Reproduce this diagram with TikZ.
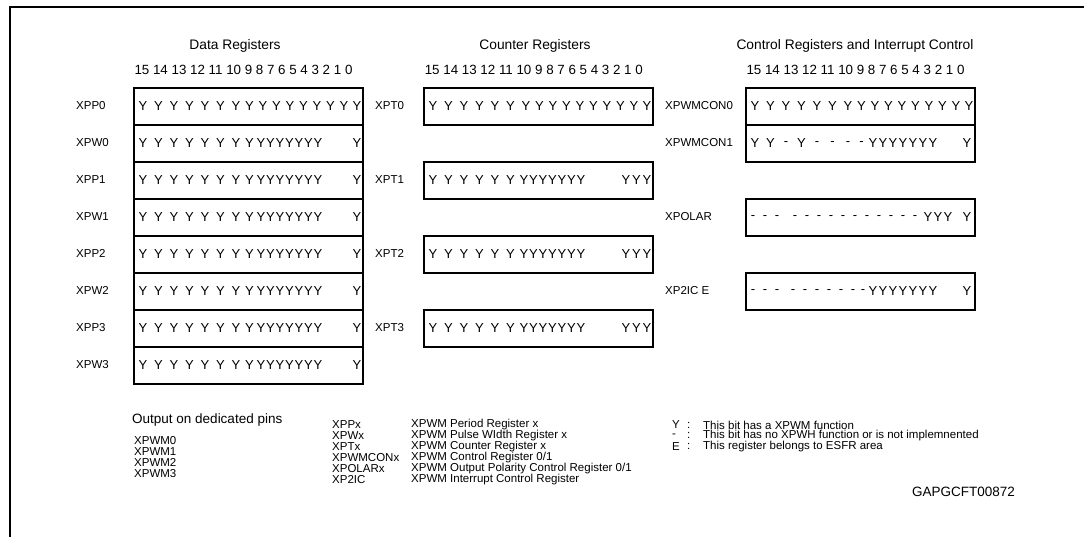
\documentclass[tikz,border=0pt]{standalone}
\usepackage{fontspec}
\setmainfont{Liberation Sans}
\usetikzlibrary{positioning}

\tikzset{
  regbox/.style={draw, line width=2pt, minimum width=229pt, minimum height=37pt, inner sep=0pt, anchor=north west},
  reglabel/.style={anchor=west, inner sep=0pt, font=\fontsize{11.5}{13}\selectfont},
  head/.style={inner sep=0pt, font=\fontsize{13.8}{16}\selectfont},
  bitnums/.style={anchor=west, inner sep=0pt, font=\fontsize{13.35}{15}\selectfont},
  bitch/.style={inner sep=0pt, font=\fontsize{13}{15}\selectfont},
  legend/.style={anchor=west, inner sep=0pt, font=\fontsize{11.5}{13}\selectfont},
}

% one row of bit contents: box name, list of offset/character
\newcommand{\bitrow}[2]{%
  \foreach \x/\c in {#2} {
    \node[bitch, xshift=\x pt] at (#1.west) {\c};
  }%
}

\begin{document}
\begin{tikzpicture}[x=1pt, y=-1pt]
  \useasboundingbox (0,0) rectangle (1084,537);

  % frame
  \draw[line width=2pt] (10,537) -- (10,7.5) -- (1084,7.5);

  % headings
  \node[head] (hdata) at (235,46) {Data Registers};
  \node[head] (hcount) at (535,46) {Counter Registers};
  \node[head] (hctrl) at (855,46) {Control Registers and Interrupt Control};
  \node[bitnums] (ndata) at (134.3,70) {15 14 13 12 11 10 9 8 7 6 5 4 3 2 1 0};
  \node[bitnums] (ncount) at (424.6,70) {15 14 13 12 11 10 9 8 7 6 5 4 3 2 1 0};
  \node[bitnums] (nctrl) at (746.3,70) {15 14 13 12 11 10 9 8 7 6 5 4 3 2 1 0};

  % data registers
  \foreach \n [count=\i from 0] in {XPP0,XPW0,XPP1,XPW1,XPP2,XPW2,XPP3,XPW3} {
    \node[regbox] (\n) at (133,87+37*\i) {};
    \node[reglabel] (l\n) at (76,105.5+37*\i) {\n};
  }

  % counter registers
  \foreach \n [count=\i from 0] in {XPT0,XPT1,XPT2,XPT3} {
    \node[regbox] (\n) at (423,87+74*\i) {};
    \node[reglabel] (l\n) at (375,105.5+74*\i) {\n};
  }

  % control registers
  \node[regbox] (XPWMCON0) at (745,87) {};
  \node[regbox] (XPWMCON1) at (745,124) {};
  \node[regbox] (XPOLAR) at (745,198) {};
  \node[regbox] (XP2IC) at (745,272) {};
  \node[reglabel] (lXPWMCON0) at (665,105.5) {XPWMCON0};
  \node[reglabel] (lXPWMCON1) at (665,142.5) {XPWMCON1};
  \node[reglabel] (lXPOLAR) at (665,216.5) {XPOLAR};
  \node[reglabel] (lXP2IC) at (665,290.5) {XP2IC E};

  % bit contents
  \bitrow{XPP0}{10/Y,25.5/Y,41/Y,56.5/Y,72/Y,87.5/Y,103/Y,116.5/Y,130/Y,143.5/Y,157/Y,170.5/Y,184/Y,197.5/Y,211/Y,224/Y}
  \foreach \n in {XPW0,XPP1,XPW1,XPP2,XPW2,XPP3,XPW3} {
    \bitrow{\n}{10/Y,25.5/Y,41/Y,56.5/Y,72/Y,87.5/Y,103/Y,116.5/Y,128/Y,137.5/Y,147/Y,156.5/Y,166/Y,175.5/Y,185/Y,224/Y}
  }
  \bitrow{XPT0}{10/Y,25.5/Y,41/Y,56.5/Y,72/Y,87.5/Y,103/Y,116.5/Y,130/Y,143.5/Y,157/Y,170.5/Y,184/Y,197.5/Y,211/Y,224/Y}
  \foreach \n in {XPT1,XPT2,XPT3} {
    \bitrow{\n}{10/Y,25.5/Y,41/Y,56.5/Y,72/Y,87.5/Y,101/Y,110.5/Y,120/Y,129.5/Y,139/Y,148.5/Y,158/Y,203/Y,213.5/Y,224/Y}
  }
  \bitrow{XPWMCON0}{10/Y,25.5/Y,41/Y,56.5/Y,72/Y,87.5/Y,103/Y,116.5/Y,130/Y,143.5/Y,157/Y,170.5/Y,184/Y,197.5/Y,211/Y,224/Y}
  \bitrow{XPWMCON1}{10/Y,25.5/Y,41/-,56.5/Y,72/-,87.5/-,103/-,116.5/-,128/Y,138/Y,148/Y,158/Y,168/Y,178/Y,188/Y,222/Y}
  \bitrow{XPOLAR}{8/-,20/-,32/-,50/-,62/-,74/-,86/-,98/-,110/-,122/-,134/-,146/-,158/-,170/-,183/Y,193/Y,203/Y,222/Y}
  \bitrow{XP2IC}{8/-,20/-,32/-,48/-,60/-,72/-,84/-,96/-,108/-,118/-,128/Y,138/Y,148/Y,158/Y,168/Y,178/Y,188/Y,222/Y}

  % legend
  \node[anchor=west, inner sep=0pt, font=\fontsize{13.5}{15}\selectfont] (pins) at (132,420) {Output on dedicated pins};
  \foreach \t [count=\i from 0] in {XPWM0,XPWM1,XPWM2,XPWM3} {
    \node[legend] (pin\i) at (134,440.5+11*\i) {\t};
  }
  \foreach \a/\d [count=\i from 0] in {XPPx/{XPWM Period Register x},
      XPWx/{XPWM Pulse WIdth Register x},
      XPTx/{XPWM Counter Register x},
      XPWMCONx/{XPWM Control Register 0/1},
      XPOLARx/{XPWM Output Polarity Control Register 0/1},
      XP2IC/{XPWM Interrupt Control Register}} {
    \node[legend] (abbr\i) at (332,425+10.9*\i) {\a};
    \node[legend] (desc\i) at (411,425+10.9*\i) {\d};
  }
  \foreach \s/\d [count=\i from 0] in {Y/{This bit has a XPWM function},
      -/{This bit has no XPWH function or is not implemnented},
      E/{This register belongs to ESFR area}} {
    \node[legend] (sym\i) at (672,425+10.9*\i) {\s};
    \node[legend] (col\i) at (687,425+10.9*\i) {:};
    \node[legend] (exp\i) at (703,425+10.9*\i) {\d};
  }
  \node[anchor=west, inner sep=0pt, font=\fontsize{13.5}{15}\selectfont] (figid) at (912,492) {GAPGCFT00872};
\end{tikzpicture}
\end{document}
